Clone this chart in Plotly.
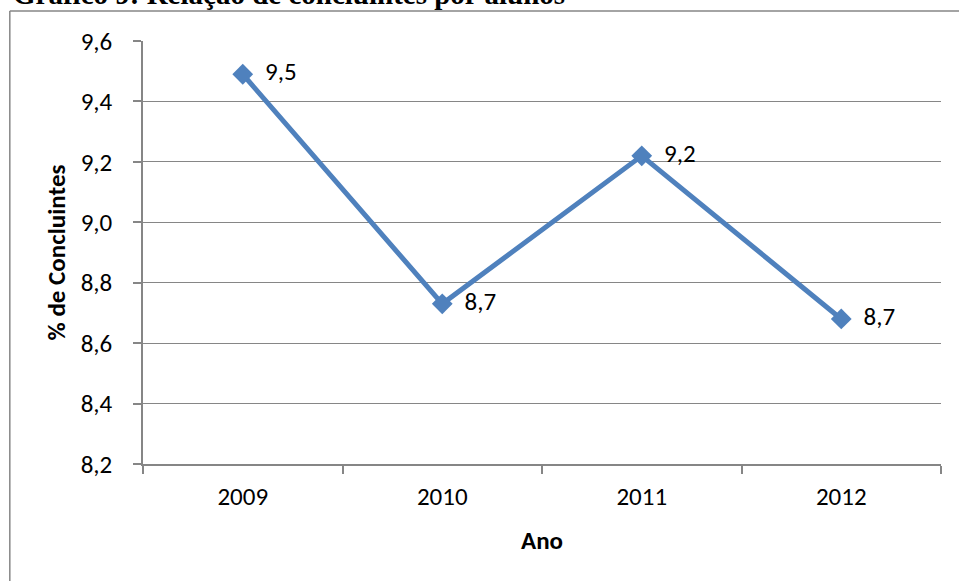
import plotly.graph_objects as go

# Share of graduates per year
anos = ["2009", "2010", "2011", "2012"]
concluintes = [9.49, 8.73, 9.22, 8.68]

y_ticks = [8.2, 8.4, 8.6, 8.8, 9.0, 9.2, 9.4, 9.6]
y_tick_labels = ["8,2", "8,4", "8,6", "8,8", "9,0", "9,2", "9,4", "9,6"]

FONT = "Carlito, Lato, 'Open Sans', sans-serif"
GRAY = "#868686"
BLUE = "#4F81BD"
FS = 25

fig = go.Figure()
fig.add_trace(go.Scatter(
    x=anos,
    y=concluintes,
    mode="lines+markers+text",
    line=dict(color=BLUE, width=5),
    marker=dict(symbol="diamond", size=16, color=BLUE),
    texttemplate="\u00a0\u00a0%{y:.1f}",
    textposition="middle right",
    textfont=dict(family=FONT, size=FS, color="#000000"),
    cliponaxis=False,
    showlegend=False,
))

fig.update_layout(
    width=959,
    height=581,
    margin=dict(l=143, r=18, t=41, b=117),
    paper_bgcolor="white",
    plot_bgcolor="white",
    separators=",.",
    font=dict(family=FONT, size=FS, color="#000000"),
    xaxis=dict(
        type="category",
        range=[-0.5, len(anos) - 0.5],
        tickson="boundaries",
        ticks="outside",
        ticklen=8,
        tickcolor=GRAY,
        tickwidth=1.5,
        ticklabelstandoff=9,
        showline=True,
        linecolor=GRAY,
        linewidth=1.5,
        showgrid=False,
        tickfont=dict(family=FONT, size=FS),
        title=dict(text="<b>Ano</b>", font=dict(family=FONT, size=FS), standoff=21),
    ),
    yaxis=dict(
        range=[8.2, 9.6],
        tickvals=y_ticks,
        ticktext=y_tick_labels,
        ticks="outside",
        ticklen=8,
        tickcolor=GRAY,
        tickwidth=1.5,
        ticklabelstandoff=16,
        showline=True,
        linecolor=GRAY,
        linewidth=1.5,
        showgrid=True,
        gridcolor=GRAY,
        gridwidth=1,
        zeroline=False,
        tickfont=dict(family=FONT, size=FS),
        title=dict(text="<b>% de Concluintes</b>", font=dict(family=FONT, size=FS), standoff=8),
    ),
    shapes=[
        # outer chart frame (left and top edges)
        dict(type="line", xref="paper", yref="paper",
             x0=-0.1669, x1=1.05, y0=1.0709, y1=1.0709,
             line=dict(color=GRAY, width=1.5)),
        dict(type="line", xref="paper", yref="paper",
             x0=-0.1669, x1=-0.1669, y0=1.0709, y1=-0.35,
             line=dict(color=GRAY, width=1.5)),
    ],
    annotations=[
        dict(text="<b>Gráfico 9: Relação de concluintes por alunos</b>",
             xref="paper", yref="paper", x=-0.165, y=1.068,
             xanchor="left", yanchor="bottom", showarrow=False,
             font=dict(family="'Liberation Serif', 'Times New Roman', serif", size=29, color="#000000")),
    ],
)

fig.write_html("out.html")
